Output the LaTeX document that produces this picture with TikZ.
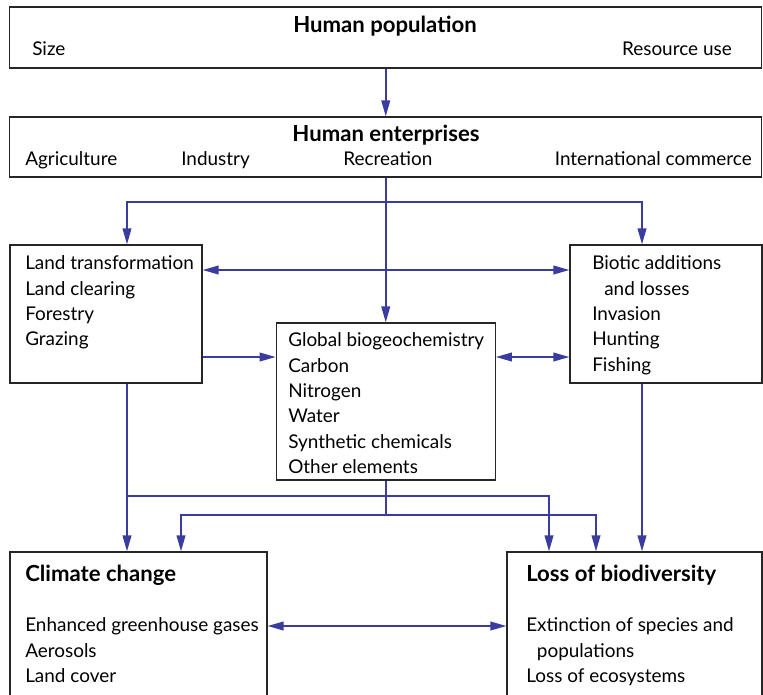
\documentclass[tikz,border=0pt]{standalone}
\usepackage{fontspec}
\setmainfont{Lato}
\usetikzlibrary{arrows.meta}
\definecolor{flowblue}{RGB}{58,60,158}
\tikzset{
  box/.style={draw=black!85, line width=0.9pt, rectangle, inner sep=0pt},
  flow/.style={draw=flowblue, line width=1.3pt},
  lbl/.style={inner sep=0pt, align=left, font=\fontsize{14.2}{19}\selectfont},
  head/.style={inner sep=0pt, font=\fontsize{16.6}{19}\selectfont\bfseries},
}

\begin{document}
\begin{tikzpicture}[x=0.75pt, y=-0.75pt, >={Triangle[length=12pt,width=6.5pt]}]
\useasboundingbox (0,0) rectangle (763,694);
\clip (0,0) rectangle (763,694);

% Boxes
\node[box, minimum width=564pt, minimum height=45.75pt] (pop) at (385.75,37.5) {};
\node[box, minimum width=564pt, minimum height=45pt] (ent) at (385.75,147) {};
\node[box, minimum width=144pt, minimum height=103.5pt] (land) at (106,314) {};
\node[box, minimum width=144pt, minimum height=103.5pt] (biotic) at (666,314) {};
\node[box, minimum width=164.25pt, minimum height=117.75pt] (glob) at (385.75,401.5) {};
\node[box, minimum width=192.75pt, minimum height=126pt] (climate) at (138.5,636) {};
\node[box, minimum width=191.25pt, minimum height=126pt] (loss) at (634.5,636) {};

% Top boxes: titles and items
\node[head, anchor=base] (popT) at (385,32) {Human population};
\node[lbl, anchor=base west] (size) at (32,55) {Size};
\node[lbl, anchor=base east] (res) at (732,55) {Resource use};
\node[head, anchor=base] (entT) at (386,141) {Human enterprises};
\node[lbl, anchor=base west] (agri) at (25,165) {Agriculture};
\node[lbl, anchor=base west] (ind) at (181,165) {Industry};
\node[lbl, anchor=base west] (rec) at (343,165) {Recreation};
\node[lbl, anchor=base east] (comm) at (752,165) {International commerce};

% Middle boxes
\node[lbl, anchor=north west] (landT) at (25,255.5) {Land transformation\\Land clearing\\Forestry\\Grazing};
\node[lbl, anchor=north west] (bioT) at (592,255.5) {Biotic additions\\\hspace*{9pt}and losses\\Invasion\\Hunting\\Fishing};
\node[lbl, anchor=north west] (globT) at (288,332.5) {Global biogeochemistry\\Carbon\\Nitrogen\\Water\\Synthetic chemicals\\Other elements};

% Bottom boxes
\node[head, anchor=base west] (climT) at (25,581) {Climate change};
\node[lbl, anchor=north west] (climL) at (25,617.5) {Enhanced greenhouse gases\\Aerosols\\Land cover};
\node[head, anchor=base west] (lossT) at (526,581) {Loss of biodiversity};
\node[lbl, anchor=north west] (lossL) at (526,617.5) {Extinction of species and\\\hspace*{8pt}populations\\Loss of ecosystems};

% Flows from population and enterprises
\draw[flow,->] (pop.south) -- (ent.north);
\draw[flow,->] (ent.south) -- (glob.north);
\coordinate (split) at (385.75,202);
\draw[flow,->] (split) -| (127,0 |- land.north);
\draw[flow,->] (split) -| (642,0 |- biotic.north);

% Links between the middle boxes
\draw[flow,<->] (land.east |- 0,270) -- (biotic.west |- 0,270);
\draw[flow,->] (land.east |- 0,357) -- (glob.west |- 0,357);
\draw[flow,<->] (glob.east |- 0,357) -- (biotic.west |- 0,357);

% Flows down to climate and biodiversity
\draw[flow,->] (127,0 |- land.south) -- (127,0 |- climate.north);
\coordinate (lj) at (127,496);
\draw[flow,->] (lj) -| (549,0 |- loss.north);
\draw[flow] (glob.south) -- (385.75,515) coordinate (gj);
\draw[flow,->] (gj) -| (181,0 |- climate.north);
\draw[flow,->] (gj) -| (596,0 |- loss.north);
\draw[flow,->] (642,0 |- biotic.south) -- (642,0 |- loss.north);
\draw[flow,<->] (climate.east |- 0,626) -- (loss.west |- 0,626);

\end{tikzpicture}
\end{document}
